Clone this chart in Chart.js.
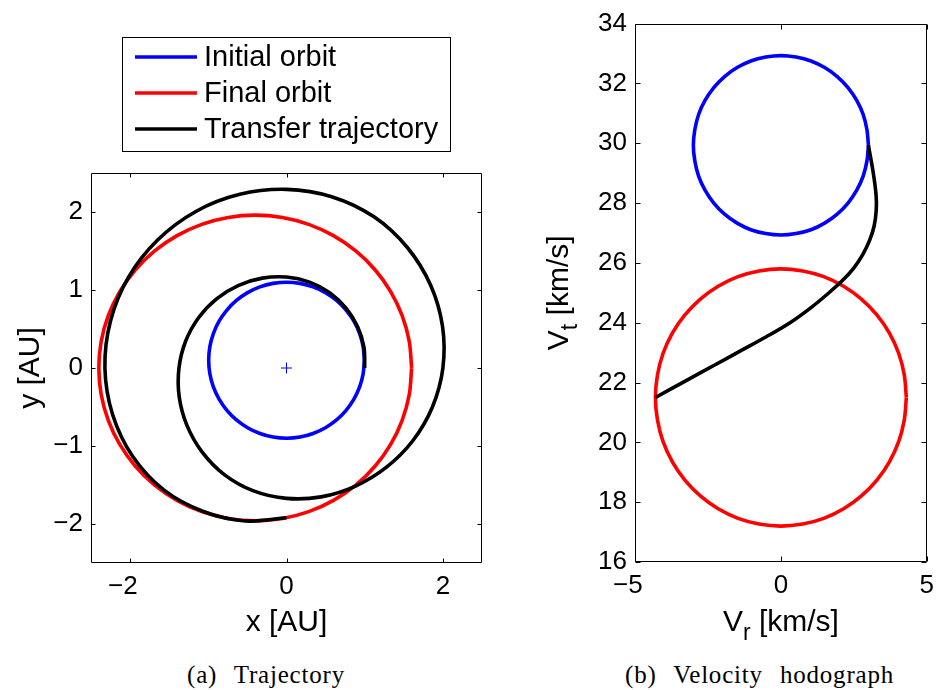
<!DOCTYPE html>
<html>
<head>
<meta charset="utf-8">
<script src="https://cdn.jsdelivr.net/npm/chart.js@4.4.1/dist/chart.umd.min.js"></script>
<style>
  body { margin: 0; background: #fff; }
  #wrap { position: relative; width: 942px; height: 690px; overflow: hidden; background: #fff; }
  canvas { position: absolute; top: 0; }
  #trajCanvas { left: 0; }
  #hodoCanvas { left: 520px; }
  .caption {
    position: absolute; top: 660px; line-height: 30px; white-space: pre;
    font-family: "Liberation Serif", serif; font-size: 25px;
    letter-spacing: 0.8px; word-spacing: 10px; color: #000;
  }
</style>
</head>
<body>
<div id="wrap">
  <canvas id="trajCanvas" width="520" height="640"></canvas>
  <canvas id="hodoCanvas" width="422" height="640"></canvas>
  <div class="caption" style="left:187px">(a) Trajectory</div>
  <div class="caption" style="left:625px">(b) Velocity hodograph</div>
</div>
<script>
// ---- trajectory, heliocentric x/y in AU ----
const initialOrbit = [
  [0.995,0.100],[0.980,0.274],[0.935,0.442],[0.862,0.600],[0.762,0.743],[0.640,0.866],[0.498,0.966],[0.340,1.040],[0.173,1.085],
  [0.000,1.100],[-0.173,1.085],[-0.340,1.040],[-0.498,0.966],[-0.640,0.866],[-0.762,0.743],[-0.862,0.600],[-0.935,0.442],[-0.980,0.274],
  [-0.995,0.100],[-0.980,-0.074],[-0.935,-0.242],[-0.862,-0.400],[-0.762,-0.543],[-0.640,-0.666],[-0.498,-0.766],[-0.340,-0.840],[-0.173,-0.885],
  [0.000,-0.900],[0.173,-0.885],[0.340,-0.840],[0.498,-0.766],[0.640,-0.666],[0.762,-0.543],[0.862,-0.400],[0.935,-0.242],[0.980,-0.074],
  [0.995,0.100]
];
const finalOrbit = [
  [1.600,0.000],[1.570,0.340],[1.479,0.670],[1.332,0.980],[1.132,1.260],[0.886,1.501],[0.600,1.697],[0.284,1.842],[-0.053,1.930],
  [-0.400,1.960],[-0.747,1.930],[-1.084,1.842],[-1.400,1.697],[-1.686,1.501],[-1.932,1.260],[-2.132,0.980],[-2.279,0.670],[-2.370,0.340],
  [-2.400,0.000],[-2.370,-0.340],[-2.279,-0.670],[-2.132,-0.980],[-1.932,-1.260],[-1.686,-1.501],[-1.400,-1.697],[-1.084,-1.842],[-0.747,-1.930],
  [-0.400,-1.960],[-0.053,-1.930],[0.284,-1.842],[0.600,-1.697],[0.886,-1.501],[1.132,-1.260],[1.332,-0.980],[1.479,-0.670],[1.570,-0.340],
  [1.600,0.000]
];
const transferPath = [
  [1.000,0.000],[0.991,0.266],[0.911,0.526],[0.764,0.764],[0.556,0.963],[0.295,1.101],[0.000,1.166],[-0.309,1.152],
  [-0.612,1.060],[-0.890,0.890],[-1.122,0.648],[-1.289,0.346],[-1.375,0.000],[-1.372,-0.368],[-1.273,-0.735],[-1.078,-1.078],
  [-0.791,-1.370],[-0.422,-1.576],[0.000,-1.672],[0.443,-1.652],[0.876,-1.517],[1.275,-1.275],[1.615,-0.933],[1.866,-0.500],
  [2.000,0.000],[1.995,0.534],[1.842,1.064],[1.545,1.545],[1.119,1.938],[0.587,2.193],[0.000,2.290],[-0.597,2.226],
  [-1.159,2.007],[-1.645,1.645],[-2.020,1.166],[-2.251,0.603],[-2.322,0.000],[-2.224,-0.596],[-1.966,-1.135],[-1.566,-1.566],
  [-1.063,-1.840],[-0.525,-1.961],[0.000,-1.920]
];
const sunPos = [[0, 0]];

// ---- hodograph, radial / tangential velocity in km/s ----
const initialHodo = [
  [3.00,29.93],[2.95,30.45],[2.82,30.96],[2.60,31.43],[2.30,31.86],[1.93,32.23],[1.50,32.53],[1.03,32.75],[0.52,32.88],
  [0.00,32.93],[-0.52,32.88],[-1.03,32.75],[-1.50,32.53],[-1.93,32.23],[-2.30,31.86],[-2.60,31.43],[-2.82,30.96],[-2.95,30.45],
  [-3.00,29.93],[-2.95,29.41],[-2.82,28.90],[-2.60,28.43],[-2.30,28.00],[-1.93,27.63],[-1.50,27.33],[-1.03,27.11],[-0.52,26.98],
  [0.00,26.93],[0.52,26.98],[1.03,27.11],[1.50,27.33],[1.93,27.63],[2.30,28.00],[2.60,28.43],[2.82,28.90],[2.95,29.41],
  [3.00,29.93]
];
const finalHodo = [
  [4.30,21.50],[4.23,22.25],[4.04,22.97],[3.72,23.65],[3.29,24.26],[2.76,24.79],[2.15,25.22],[1.47,25.54],[0.75,25.73],
  [0.00,25.80],[-0.75,25.73],[-1.47,25.54],[-2.15,25.22],[-2.76,24.79],[-3.29,24.26],[-3.72,23.65],[-4.04,22.97],[-4.23,22.25],
  [-4.30,21.50],[-4.23,20.75],[-4.04,20.03],[-3.72,19.35],[-3.29,18.74],[-2.76,18.21],[-2.15,17.78],[-1.47,17.46],[-0.75,17.27],
  [0.00,17.20],[0.75,17.27],[1.47,17.46],[2.15,17.78],[2.76,18.21],[3.29,18.74],[3.72,19.35],[4.04,20.03],[4.23,20.75],
  [4.30,21.50]
];
const transferHodo = [
  [3.00,29.93],[3.16,29.05],[3.26,28.30],[3.27,27.80],[3.20,27.25],[3.04,26.75],[2.80,26.27],[2.49,25.82],[2.10,25.40],
  [1.60,24.96],[1.00,24.48],[0.30,23.99],[-0.50,23.53],[-1.40,23.05],[-2.30,22.57],[-3.20,22.09],[-4.30,21.50]
];

const seriesLabels = ['Initial orbit', 'Final orbit', 'Transfer trajectory'];
const trajTicksX = [-2, 0, 2];
const trajTicksY = [-2, -1, 0, 1, 2];
const hodoTicksX = [-5, 0, 5];
const hodoTicksY = [16, 18, 20, 22, 24, 26, 28, 30, 32, 34];

Chart.defaults.color = '#000';
Chart.defaults.font.family = '"Liberation Sans", Arial, sans-serif';

const BLUE = '#0000ff', RED = '#ff0000', BLACK = '#000000';
const toXY = pts => pts.map(([x, y]) => ({ x, y }));

function curve(label, pts, color, order) {
  return {
    label, data: toXY(pts), showLine: true, fill: false, order,
    borderColor: color, backgroundColor: color, borderWidth: 3.6,
    pointRadius: 0, pointHoverRadius: 0, tension: 0.33
  };
}

// minus sign like the axis labels; negative x labels get a trailing figure space so the digits sit on the tick
const fmt = pad => v => (v < 0 ? '\u2212' + Math.abs(v) + (pad ? '\u2007' : '') : String(v));

function axis(ticks, min, max, fit, pad) {
  return {
    type: 'linear', min, max,
    grid: { display: false, drawTicks: false },
    border: { display: false },
    afterBuildTicks: s => { s.ticks = ticks.map(v => ({ value: v })); },
    afterFit: fit,
    ticks: { font: { size: 26 }, padding: 8, autoSkip: false, maxRotation: 0, callback: fmt(pad) }
  };
}

// axes box with inward tick marks on all four sides
const frame = {
  id: 'frame',
  afterDatasetsDraw(chart, args, o) {
    const { ctx, chartArea: a, scales } = chart;
    const len = o.tickLen || 4;
    const L = Math.round(a.left) + 0.5, R = Math.round(a.right) - 0.5;
    const T = Math.round(a.top) + 0.5, B = Math.round(a.bottom) - 0.5;
    ctx.save();
    ctx.strokeStyle = '#000';
    ctx.lineWidth = 1;
    ctx.beginPath();
    ctx.rect(L, T, R - L, B - T);
    scales.x.ticks.forEach(t => {
      const p = Math.round(scales.x.getPixelForValue(t.value)) + 0.5;
      ctx.moveTo(p, B); ctx.lineTo(p, B - len);
      ctx.moveTo(p, T); ctx.lineTo(p, T + len);
    });
    scales.y.ticks.forEach(t => {
      const p = Math.round(scales.y.getPixelForValue(t.value)) + 0.5;
      ctx.moveTo(L, p); ctx.lineTo(L + len, p);
      ctx.moveTo(R, p); ctx.lineTo(R - len, p);
    });
    ctx.stroke();
    ctx.restore();
  }
};

// text centred on the origin with baseline at 0; "_c" puts c in subscript
function drawRich(ctx, text, size) {
  const main = size + 'px "Liberation Sans", Arial, sans-serif';
  const sub = Math.round(size * 0.75) + 'px "Liberation Sans", Arial, sans-serif';
  const segs = [];
  for (let i = 0; i < text.length; i++) {
    if (text[i] === '_') segs.push({ t: text[++i], sub: true });
    else if (segs.length && !segs[segs.length - 1].sub) segs[segs.length - 1].t += text[i];
    else segs.push({ t: text[i], sub: false });
  }
  let total = 0;
  segs.forEach(s => { ctx.font = s.sub ? sub : main; s.w = ctx.measureText(s.t).width; total += s.w; });
  let x = -total / 2;
  segs.forEach(s => {
    ctx.font = s.sub ? sub : main;
    ctx.fillText(s.t, x, s.sub ? size * 0.3 : 0);
    x += s.w;
  });
}

const axisTitles = {
  id: 'axisTitles',
  afterDraw(chart, args, o) {
    if (!o.x) return;
    const { ctx, chartArea: a } = chart;
    ctx.save();
    ctx.fillStyle = '#000';
    ctx.textAlign = 'left';
    ctx.textBaseline = 'alphabetic';
    ctx.save();
    ctx.translate((a.left + a.right) / 2, o.xBase);
    drawRich(ctx, o.x, o.size);
    ctx.restore();
    ctx.translate(o.yBase, (a.top + a.bottom) / 2);
    ctx.rotate(-Math.PI / 2);
    drawRich(ctx, o.y, o.size);
    ctx.restore();
  }
};

// boxed legend above the trajectory axes
const boxLegend = {
  id: 'boxLegend',
  afterDraw(chart, args, o) {
    if (!o.w) return;
    const ctx = chart.ctx;
    const items = chart.data.datasets.filter(d => d.label);
    ctx.save();
    ctx.fillStyle = '#fff';
    ctx.fillRect(o.left, o.top, o.w, o.h);
    ctx.strokeStyle = '#000';
    ctx.lineWidth = 1;
    ctx.strokeRect(o.left + 0.5, o.top + 0.5, o.w, o.h);
    ctx.font = o.size + 'px "Liberation Sans", Arial, sans-serif';
    ctx.textBaseline = 'middle';
    ctx.textAlign = 'left';
    items.forEach((d, i) => {
      const y = o.top + o.first + i * o.step;
      ctx.strokeStyle = d.borderColor;
      ctx.lineWidth = d.borderWidth;
      ctx.beginPath();
      ctx.moveTo(o.left + o.lineFrom, y);
      ctx.lineTo(o.left + o.lineTo, y);
      ctx.stroke();
      ctx.fillStyle = '#000';
      ctx.fillText(d.label, o.left + o.textAt, y + 1);
    });
    ctx.restore();
  }
};

new Chart(document.getElementById('trajCanvas'), {
  type: 'scatter',
  data: {
    datasets: [
      curve(seriesLabels[0], initialOrbit, BLUE, 2),
      curve(seriesLabels[1], finalOrbit, RED, 1),
      curve(seriesLabels[2], transferPath, BLACK, 0),
      { data: toXY(sunPos), showLine: false, order: 0, pointStyle: 'cross',
        pointRadius: 5.5, pointHoverRadius: 5.5, borderColor: BLUE, borderWidth: 1 }
    ]
  },
  options: {
    responsive: false, animation: false, events: [],
    layout: { padding: { top: 173, right: 38, left: 0, bottom: 0 } },
    scales: {
      x: axis(trajTicksX, -2.5, 2.5, s => { s.height = 77; }, true),
      y: axis(trajTicksY, -2.5, 2.5, s => { s.width = 91; }, false)
    },
    plugins: {
      legend: { display: false }, tooltip: { enabled: false },
      frame: { tickLen: 4 },
      axisTitles: { x: 'x [AU]', y: 'y [AU]', size: 30, xBase: 631, yBase: 39 },
      boxLegend: { left: 122, top: 37, w: 328, h: 114, first: 20, step: 36,
                   lineFrom: 13, lineTo: 75, textAt: 82, size: 29 }
    }
  },
  plugins: [frame, axisTitles, boxLegend]
});

new Chart(document.getElementById('hodoCanvas'), {
  type: 'scatter',
  data: {
    datasets: [
      curve(seriesLabels[0], initialHodo, BLUE, 2),
      curve(seriesLabels[1], finalHodo, RED, 1),
      curve(seriesLabels[2], transferHodo, BLACK, 0)
    ]
  },
  options: {
    responsive: false, animation: false, events: [],
    layout: { padding: { top: 20, right: 9, left: 0, bottom: 0 } },
    scales: {
      x: axis(hodoTicksX, -5, 5, s => { s.height = 78; }, true),
      y: axis(hodoTicksY, 16, 34, s => { s.width = 115; }, false)
    },
    plugins: {
      legend: { display: false }, tooltip: { enabled: false },
      frame: { tickLen: 5 },
      axisTitles: { x: 'V_r [km/s]', y: 'V_t [km/s]', size: 30, xBase: 631, yBase: 48 }
    }
  },
  plugins: [frame, axisTitles]
});
</script>
</body>
</html>
